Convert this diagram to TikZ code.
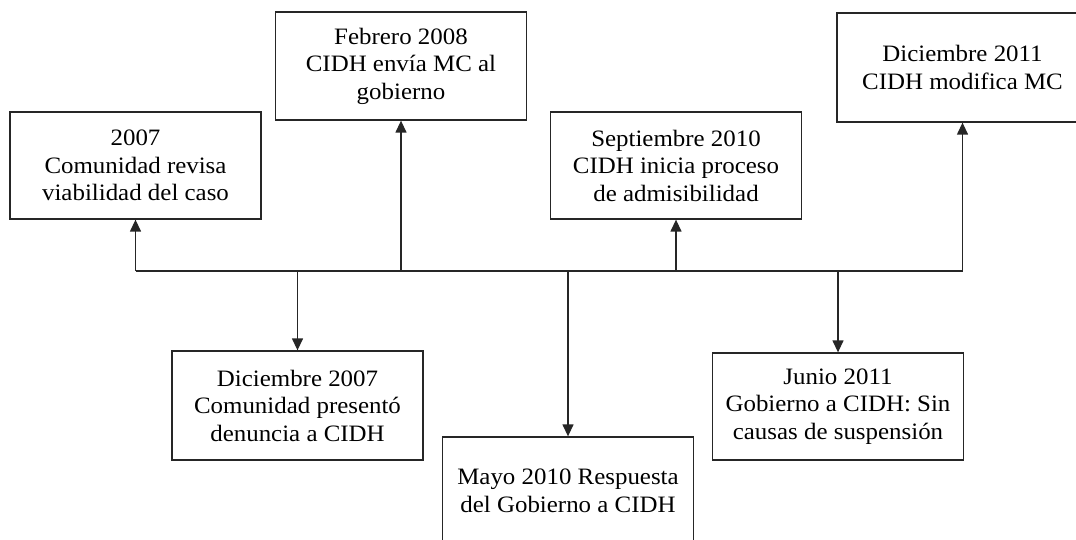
\documentclass[tikz,border=0pt]{standalone}
\usepackage{fontspec}
\setmainfont[FakeStretch=1.06]{Liberation Serif}
\usetikzlibrary{arrows.meta}
\tikzset{
  evbox/.style={draw=black!85, line width=1.3pt, inner sep=0pt, minimum width=251pt, minimum height=107pt,
    align=center, font=\fontsize{23.5}{27.5}\selectfont},
  conn/.style={draw=black!85, line width=1.3pt},
  arr/.style={conn, -{Triangle[length=12pt,width=11pt]}}
}
\begin{document}
\begin{tikzpicture}[x=1pt,y=-1pt]
\useasboundingbox (0,0) rectangle (1076,540);
\clip (0,0) rectangle (1076,540);
\fill[white] (0,0) rectangle (1076,540);
\node[evbox] (b1) at (135.5,165.5) {2007\\Comunidad revisa\\viabilidad del caso};
\node[evbox, minimum height=108pt] (b2) at (401,66) {Febrero 2008\\CIDH envía MC al\\gobierno};
\node[evbox] (b3) at (676,165.5) {Septiembre 2010\\CIDH inicia proceso\\de admisibilidad};
\node[evbox, minimum height=109pt] (b4) at (962.5,67.5) {Diciembre 2011\\CIDH modifica MC};
\node[evbox, minimum height=109pt] (b5) at (297.5,405.5) {Diciembre 2007\\Comunidad presentó\\denuncia a CIDH};
\node[evbox, minimum height=108pt] (b6) at (568,491) {Mayo 2010 Respuesta\\del Gobierno a CIDH};
\node[evbox] (b7) at (838,406.5) {Junio 2011\\Gobierno a CIDH: Sin\\causas de suspensión};
\coordinate (lineL) at (135.5,271);
\coordinate (lineR) at (962.5,271);
\draw[conn] (lineL) -- (lineR);
\draw[arr] (b1.south |- lineL) -- (b1.south);
\draw[arr] (b2.south |- lineL) -- (b2.south);
\draw[arr] (b3.south |- lineL) -- (b3.south);
\draw[arr] (b4.south |- lineL) -- (b4.south);
\draw[arr] (b5.north |- lineL) -- (b5.north);
\draw[arr] (b6.north |- lineL) -- (b6.north);
\draw[arr] (b7.north |- lineL) -- (b7.north);
\end{tikzpicture}
\end{document}
